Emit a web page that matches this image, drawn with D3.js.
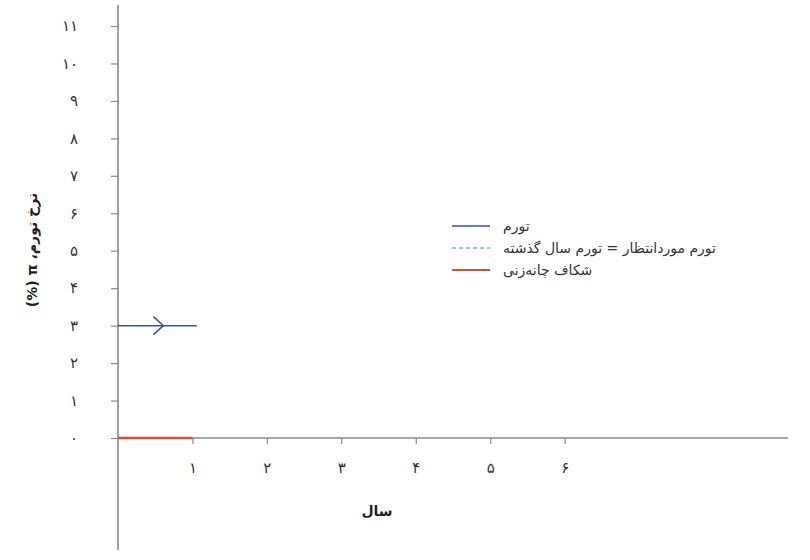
<!DOCTYPE html>
<html>
<head>
<meta charset="utf-8">
<script src="https://cdn.jsdelivr.net/npm/d3@7"></script>
<style>
  body { margin: 0; background: #fff; }
  svg { display: block; font-family: "DejaVu Sans", sans-serif; }
</style>
</head>
<body>
<svg id="chart" width="810" height="560"></svg>
<script>
// data
const yTicks = [0, 1, 2, 3, 4, 5, 6, 7, 8, 9, 10, 11];
const yTickLabels = ["۰", "۱", "۲", "۳", "۴", "۵", "۶", "۷", "۸", "۹", "۱۰", "۱۱"];
const xTicks = [1, 2, 3, 4, 5, 6];
const xTickLabels = ["۱", "۲", "۳", "۴", "۵", "۶"];

const inflationYears = [0, 1.06];
const inflationValues = [3, 3];
const gapYears = [0, 1];
const gapValues = [0, 0];
const arrowAt = [0.61, 3];

const seriesNames = ["تورم", "تورم موردانتظار = تورم سال گذشته", "شکاف چانه‌زنی"];
const seriesColors = ["#3f4fa3", "#5cc3e6", "#d0503a"];

const axisColor = "#8a8a8a";

const svg = d3.select("#chart");

const x = d3.scaleLinear().domain([0, 9]).range([118, 788]);
const y = d3.scaleLinear().domain([0, 11]).range([438, 26]);

// y axis
const yAxis = svg.append("g")
  .attr("transform", `translate(${x(0)},0)`)
  .call(d3.axisLeft(y)
    .tickValues(yTicks)
    .tickSize(7)
    .tickPadding(33)
    .tickFormat((d, i) => yTickLabels[i]));
yAxis.select(".domain").remove();
yAxis.selectAll(".tick line").attr("stroke", axisColor).attr("stroke-width", 1.2);
yAxis.selectAll(".tick text")
  .attr("fill", "#333")
  .style("font-size", "15px")
  .style("font-family", "'DejaVu Sans', sans-serif");

svg.append("line")
  .attr("x1", x(0)).attr("x2", x(0))
  .attr("y1", y(-3)).attr("y2", y(11.56))
  .attr("stroke", axisColor)
  .attr("stroke-width", 1.6);

// x axis
const xAxis = svg.append("g")
  .attr("transform", `translate(0,${y(0)})`)
  .call(d3.axisBottom(x)
    .tickValues(xTicks)
    .tickSize(6)
    .tickPadding(18)
    .tickFormat((d, i) => xTickLabels[i]));
xAxis.select(".domain").remove();
xAxis.selectAll(".tick line").attr("stroke", axisColor).attr("stroke-width", 1.2);
xAxis.selectAll(".tick text")
  .attr("fill", "#333")
  .style("font-size", "15px")
  .style("font-family", "'DejaVu Sans', sans-serif");

svg.append("line")
  .attr("x1", x(0)).attr("x2", x(9))
  .attr("y1", y(0)).attr("y2", y(0))
  .attr("stroke", axisColor)
  .attr("stroke-width", 1.6);

// axis titles
svg.append("text")
  .attr("x", 377)
  .attr("y", 516)
  .attr("text-anchor", "middle")
  .attr("direction", "rtl")
  .style("font-size", "14px")
  .style("font-weight", "bold")
  .attr("fill", "#222")
  .text("سال");

svg.append("text")
  .attr("transform", "translate(37,250) rotate(-90)")
  .attr("text-anchor", "middle")
  .attr("direction", "rtl")
  .style("font-size", "14px")
  .style("font-weight", "bold")
  .attr("fill", "#222")
  .text("نرخ تورم، π (%)");

// series
const line = d3.line().x(d => x(d[0])).y(d => y(d[1]));

svg.append("path")
  .datum(d3.zip(gapYears, gapValues))
  .attr("fill", "none")
  .attr("stroke", seriesColors[2])
  .attr("stroke-width", 2.5)
  .attr("d", line);

svg.append("path")
  .datum(d3.zip(inflationYears, inflationValues))
  .attr("fill", "none")
  .attr("stroke", seriesColors[0])
  .attr("stroke-width", 1.5)
  .attr("d", line);

// direction arrow on the inflation line
const ax = x(arrowAt[0]), ay = y(arrowAt[1]);
svg.append("path")
  .attr("d", `M${ax - 10},${ay - 9} L${ax},${ay} L${ax - 10},${ay + 9}`)
  .attr("fill", "none")
  .attr("stroke", seriesColors[0])
  .attr("stroke-width", 1.5);

// legend
const legend = svg.append("g").attr("transform", "translate(452,226)");
seriesNames.forEach((name, i) => {
  const row = legend.append("g").attr("transform", `translate(0,${i * 22})`);
  row.append("line")
    .attr("x1", 0).attr("x2", 38)
    .attr("y1", 0).attr("y2", 0)
    .attr("stroke", seriesColors[i])
    .attr("stroke-width", i === 2 ? 2 : 1.5)
    .attr("stroke-dasharray", i === 1 ? "4,3" : null);
  row.append("text")
    .attr("x", 51)
    .attr("y", 5)
    .attr("direction", "rtl")
    .attr("text-anchor", "end")
    .style("font-size", "14px")
    .attr("fill", "#333")
    .text(name);
});
</script>
</body>
</html>
